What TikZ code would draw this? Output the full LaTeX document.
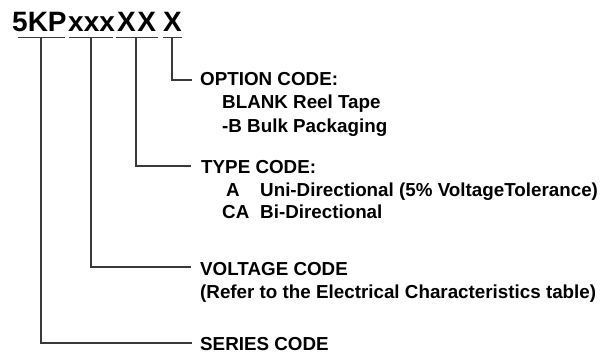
\documentclass[tikz,border=0pt]{standalone}
\usepackage{fontspec}
\setmainfont{Liberation Sans}
\definecolor{linegray}{HTML}{3A3A3A}
\begin{document}
\begin{tikzpicture}[x=1pt,y=-1pt,
  lbl/.style={anchor=base west,inner sep=0pt,font=\fontsize{18.8}{22}\selectfont\bfseries},
  ttl/.style={anchor=base west,inner sep=0pt,font=\fontsize{28}{32}\selectfont\bfseries},
  uline/.style={draw=linegray,line width=1pt},
  conn/.style={draw=linegray,line width=1.2pt}]
\useasboundingbox (0,0) rectangle (603,353);
% title
\node[ttl] (t1) at (12,32) {5KP};
\node[ttl] (t2) at (68,32) {xxx};
\node[ttl] (t3) at (117,32) {X\kern1.5pt X};
\node[ttl] (t4) at (163,32) {X};
% underlines
\coordinate (a1) at (18,38);  \coordinate (b1) at (65,38);
\coordinate (a2) at (69,38);  \coordinate (b2) at (113,38);
\coordinate (a3) at (116,38); \coordinate (b3) at (158,38);
\coordinate (a4) at (163,38); \coordinate (b4) at (182,38);
\path[uline] (a1) -- (b1) (a2) -- (b2) (a3) -- (b3) (a4) -- (b4);
% connector start points
\coordinate (u1) at (41,38);
\coordinate (u2) at (91,38);
\coordinate (u3) at (136,38);
\coordinate (u4) at (172,38);
% connector ends
\coordinate (e4) at (192,80);
\coordinate (e3) at (191,166);
\coordinate (e2) at (191,267);
\coordinate (e1) at (192,343);
\path[conn] (u4) |- (e4);
\path[conn] (u3) |- (e3);
\path[conn] (u2) |- (e2);
\path[conn] (u1) |- (e1);
% labels
\node[lbl] (opt) at (200,86) {OPTION CODE:};
\node[lbl] (opt1) at (222,109) {BLANK Reel Tape};
\node[lbl] (opt2) at (222,132) {-B Bulk Packaging};
\node[lbl] (typ) at (201,173) {TYPE CODE:};
\node[lbl] (typA) at (226,196) {A};
\node[lbl] (typAt) at (260,196) {Uni-Directional (5\% VoltageTolerance)};
\node[lbl] (typC) at (222,218) {CA};
\node[lbl] (typCt) at (260,218) {Bi-Directional};
\node[lbl] (vol) at (200,275) {VOLTAGE CODE};
\node[lbl] (vol1) at (200,298) {(Refer to the Electrical Characteristics table)};
\node[lbl] (ser) at (200,350) {SERIES CODE};
\end{tikzpicture}
\end{document}
